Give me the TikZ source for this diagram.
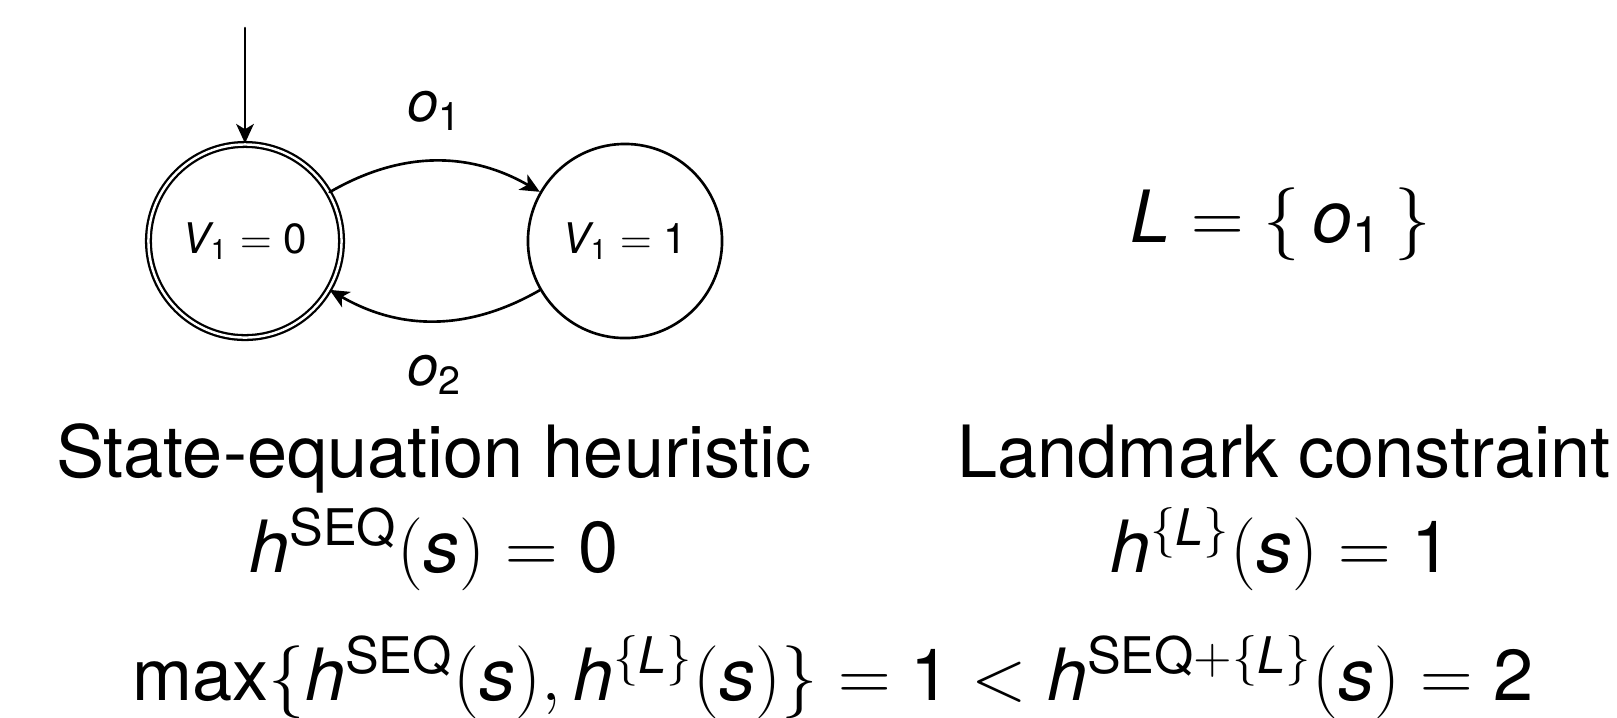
\documentclass[tikz,border=0pt]{standalone}
\usepackage{amsmath}
\usepackage{fontspec}
\setmainfont{TeX Gyre Heros}
\setsansfont{TeX Gyre Heros}
\usetikzlibrary{arrows.meta}

\begin{document}
\begin{tikzpicture}[x=0.01cm, y=-0.01cm, >={Stealth[length=5.5pt, width=5pt, inset=1.5pt]}, line width=0.75pt, line cap=round, line join=round,
		state/.style={draw, circle, inner sep=0pt, font=\fontsize{12}{14}\selectfont},
		lab/.style={font=\fontsize{16}{19}\selectfont},
		big/.style={anchor=base, font=\fontsize{20.5}{24}\selectfont}]
	\useasboundingbox (0,0) rectangle (1617,717);
	% === AUTOMAT ===
	\node[state, double, line width=0.65pt, double distance=0.7pt, minimum size=1.93cm] (q0) at (245,241) {$\mathit{V}_{\mathrm{1}} = \mathrm{0}$};
	\node[state, minimum size=1.94cm] (q1) at (625,241) {$\mathit{V}_{\mathrm{1}} = \mathrm{1}$};
	\coordinate (init) at (245,28);
	\draw[->] (init) -- (q0);
	\draw[->] (q0) to[bend left=30] node[lab, above=5pt] (o1) {$\mathit{o}_{\mathrm{1}}$} (q1);
	\draw[->] (q1) to[bend left=30] node[lab, below=6pt] (o2) {$\mathit{o}_{\mathrm{2}}$} (q0);

	% === LANDMARK ===
	\node[big] (lmset) at (1281,242) {$\mathit{L} = \{\,\mathit{o}_{\mathrm{1}}\,\}$};

	% === HEURISTIKEN ===
	\node[big] (seqname) at (434,477) {State-equation heuristic};
	\node[big] (seqval) at (434,572) {$\mathit{h}^{\mathrm{SEQ}}(\mathit{s}) = \mathrm{0}$};
	\node[big] (lmname) at (1284,477) {Landmark constraint};
	\node[big] (lmval) at (1281,572) {$\mathit{h}^{\{\mathit{L}\}}(\mathit{s}) = \mathrm{1}$};
	\node[big] (combo) at (833,700) {$\max\{\mathit{h}^{\mathrm{SEQ}}(\mathit{s}), \mathit{h}^{\{\mathit{L}\}}(\mathit{s})\} = \mathrm{1} < \mathit{h}^{\mathrm{SEQ}+\{\mathit{L}\}}(\mathit{s}) = \mathrm{2}$};
\end{tikzpicture}
\end{document}
